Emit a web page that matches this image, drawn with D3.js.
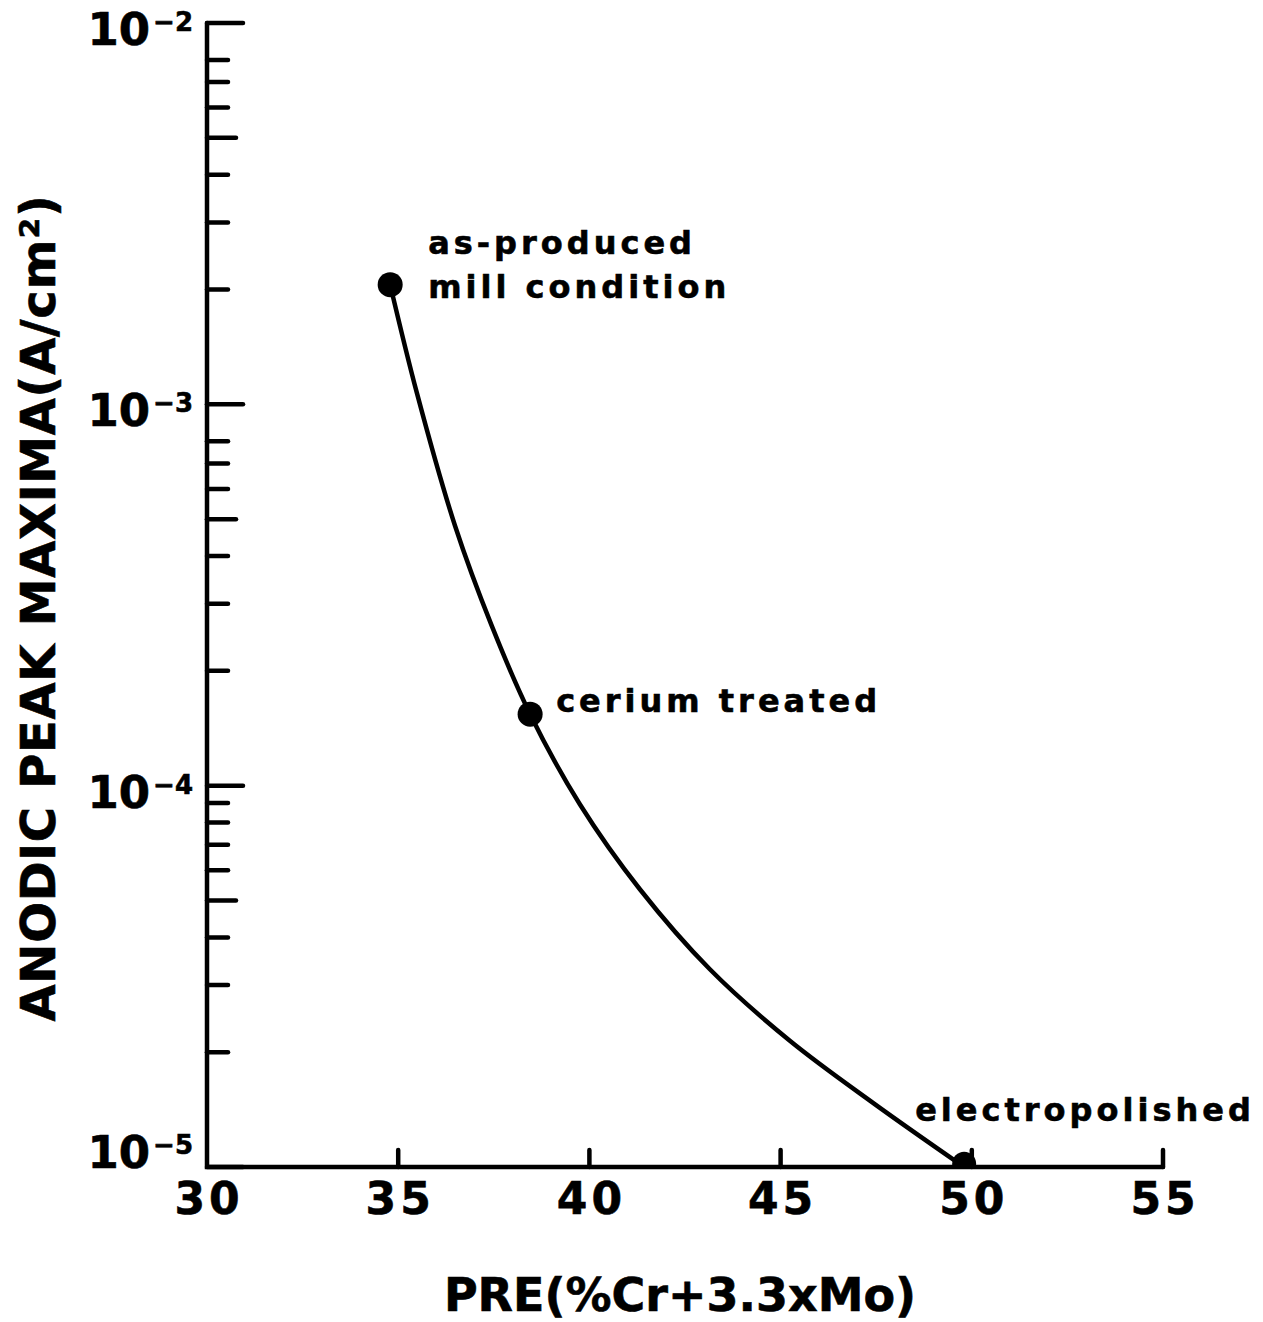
<!DOCTYPE html>
<meta charset="utf-8">
<script src="https://cdn.jsdelivr.net/npm/d3@7"></script>
<style>
body { margin: 0; background: #fff; }
text { font-family: "DejaVu Sans", sans-serif; font-weight: bold; fill: #000; stroke: #000; stroke-width: 0.6px; }
.axis-line, .tick { stroke: #000; stroke-width: 4.5px; stroke-linecap: round; fill: none; }
.curve { fill: none; stroke: #000; stroke-width: 4.5px; }
.ann { font-size: 32px; letter-spacing: 4px; }
</style>
<body>
<script>

// x ticks (PRE)
var xTicks = [30, 35, 40, 45, 50, 55];
// y decades and minor ticks (A/cm2)
var yDecades = [1e-2, 1e-3, 1e-4, 1e-5];
var yDecadeLabels = ["−2", "−3", "−4", "−5"];
var yMinor = [8e-3, 7e-3, 6e-3, 5e-3, 4e-3, 3e-3, 2e-3,
              8e-4, 7e-4, 6e-4, 5e-4, 4e-4, 3e-4, 2e-4,
              9e-5, 8e-5, 7e-5, 6e-5, 5e-5, 4e-5, 3e-5, 2e-5];

// curve
var curvePre = [34.79, 35.49, 36.49, 37.45, 38.45, 39.75, 41.32, 43.15, 45.25, 47.47, 49.8];
var curveCurrent = [2.06e-3, 1.07e-3, 4.79e-4, 2.62e-4, 1.54e-4, 8.94e-5, 5.35e-5, 3.30e-5, 2.14e-5, 1.46e-5, 1.0e-5];

// labelled points
var pointPre = [34.79, 38.45, 49.8];
var pointCurrent = [2.06e-3, 1.54e-4, 1.02e-5];
var pointLabels = [["as-produced", "mill condition"], ["cerium treated"], ["electropolished"]];

var width = 1263, height = 1322;

var svg = d3.select("body").append("svg")
    .attr("width", width)
    .attr("height", height);

var x = d3.scaleLinear().domain([30, 55]).range([207, 1163]);
var y = d3.scaleLog().domain([1e-5, 1e-2]).range([1167, 23]);

// clip so the last marker sits on the axis
svg.append("clipPath").attr("id", "plot")
  .append("rect")
    .attr("x", x(30)).attr("y", 0)
    .attr("width", x(55) - x(30) + 20).attr("height", y(1e-5));

// axes lines
svg.append("path")
    .attr("class", "axis-line")
    .attr("d", "M" + x(30) + "," + y(1e-2) + "V" + y(1e-5) + "H" + x(55));

// x ticks, pointing up
svg.selectAll(".xtick")
    .data(xTicks.slice(1))
  .enter().append("line")
    .attr("class", "tick")
    .attr("x1", function(d) { return x(d); })
    .attr("x2", function(d) { return x(d); })
    .attr("y1", y(1e-5))
    .attr("y2", y(1e-5) - 17);

svg.selectAll(".xlab")
    .data(xTicks)
  .enter().append("text")
    .attr("x", function(d) { return x(d) + 2; })
    .attr("y", 1214)
    .attr("text-anchor", "middle")
    .style("font-size", "44px")
    .style("letter-spacing", "4px")
    .text(function(d) { return d; });

// y ticks, pointing right
svg.selectAll(".ymaj")
    .data(yDecades)
  .enter().append("line")
    .attr("class", "tick")
    .attr("x1", x(30))
    .attr("x2", x(30) + 36)
    .attr("y1", function(d) { return y(d); })
    .attr("y2", function(d) { return y(d); });

svg.selectAll(".ymin")
    .data(yMinor)
  .enter().append("line")
    .attr("class", "tick")
    .attr("x1", x(30))
    .attr("x2", function(d) {
        var m = Math.round(d / Math.pow(10, Math.floor(Math.log10(d) + 1e-9)));
        return x(30) + (m == 5 ? 29 : 21);
    })
    .attr("y1", function(d) { return y(d); })
    .attr("y2", function(d) { return y(d); });

var ylab = svg.selectAll(".ylab")
    .data(yDecades)
  .enter().append("text")
    .attr("x", 193)
    .attr("y", function(d, i) { return y(d) + (i == yDecades.length - 1 ? 1 : 22); })
    .attr("text-anchor", "end");
ylab.append("tspan")
    .style("font-size", "45px")
    .text("10");
ylab.append("tspan")
    .attr("dy", -14)
    .attr("dx", 3)
    .style("font-size", "26px")
    .text(function(d, i) { return yDecadeLabels[i]; });

// axis titles
svg.append("text")
    .attr("x", 680)
    .attr("y", 1311)
    .attr("text-anchor", "middle")
    .style("font-size", "46px")
    .text("PRE(%Cr+3.3xMo)");

svg.append("text")
    .attr("transform", "translate(55,608) rotate(-90)")
    .attr("text-anchor", "middle")
    .style("font-size", "48px")
    .style("letter-spacing", "0.7px")
    .text("ANODIC PEAK MAXIMA(A/cm²)");

// curve
var line = d3.line()
    .x(function(d) { return x(d[0]); })
    .y(function(d) { return y(d[1]); })
    .curve(d3.curveCatmullRom.alpha(0.5));

svg.append("path")
    .attr("class", "curve")
    .attr("d", line(curvePre.map(function(v, i) { return [v, curveCurrent[i]]; })));

// markers
svg.append("g")
    .attr("clip-path", "url(#plot)")
  .selectAll("circle")
    .data(pointPre)
  .enter().append("circle")
    .attr("cx", function(d) { return x(d); })
    .attr("cy", function(d, i) { return y(pointCurrent[i]); })
    .attr("r", function(d, i) { return i == 2 ? 12 : 12.5; })
    .attr("fill", "#000");

// annotations
var annOffset = [[38, -31], [26, -2], [-49, -43]];
pointLabels.forEach(function(lines, i) {
    var t = svg.append("text")
        .attr("class", "ann")
        .attr("x", x(pointPre[i]) + annOffset[i][0])
        .attr("y", y(pointCurrent[i]) + annOffset[i][1]);
    lines.forEach(function(s, j) {
        t.append("tspan")
            .attr("x", x(pointPre[i]) + annOffset[i][0])
            .attr("dy", j == 0 ? 0 : 44)
            .text(s);
    });
});

</script>
</body>
